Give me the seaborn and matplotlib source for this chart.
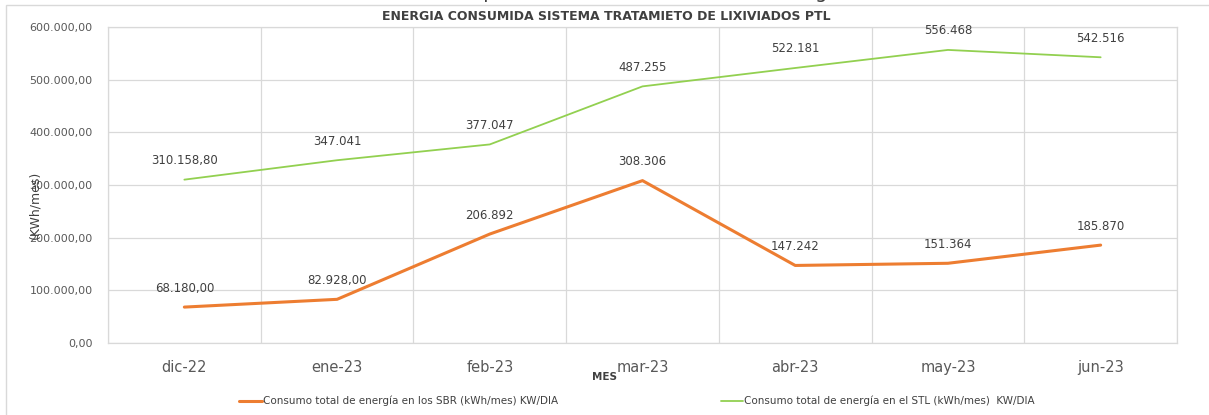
import matplotlib
matplotlib.use("Agg")
import matplotlib.pyplot as plt
import seaborn as sns
import pandas as pd
import numpy as np
from matplotlib.patches import Rectangle
from matplotlib.ticker import FuncFormatter, FixedLocator

# --- Data ---
meses = ["dic-22", "ene-23", "feb-23", "mar-23", "abr-23", "may-23", "jun-23"]
sbr_vals = [68180.00, 82928.00, 206892, 308306, 147242, 151364, 185870]
stl_vals = [310158.80, 347041, 377047, 487255, 522181, 556468, 542516]
sbr_labels = ["68.180,00", "82.928,00", "206.892", "308.306", "147.242", "151.364", "185.870"]
stl_labels = ["310.158,80", "347.041", "377.047", "487.255", "522.181", "556.468", "542.516"]

sbr_name = "Consumo total de energía en los SBR (kWh/mes) KW/DIA"
stl_name = "Consumo total de energía en el STL (kWh/mes)  KW/DIA"

df = pd.DataFrame({
    "mes": meses * 2,
    "valor": sbr_vals + stl_vals,
    "serie": [sbr_name] * len(meses) + [stl_name] * len(meses),
})
df["pos"] = list(range(len(meses))) * 2

sns.set_theme(style="white")
plt.rcParams["font.family"] = ["DejaVu Sans"]

fig = plt.figure(figsize=(12.09, 4.15), dpi=100)
ax = fig.add_axes([108 / 1209, 1 - 343 / 415, (1177 - 108) / 1209, (343 - 27) / 415])

colors = {sbr_name: "#ED7D31", stl_name: "#92D050"}
widths = {sbr_name: 2.2, stl_name: 1.3}
for name, group in df.groupby("serie", sort=False):
    sns.lineplot(data=group, x="pos", y="valor", ax=ax, color=colors[name],
                 linewidth=widths[name], label=name, legend=False)

for i in range(len(meses)):
    ax.annotate(sbr_labels[i], (i, sbr_vals[i]), xytext=(0, 9), textcoords="offset points",
                ha="center", va="bottom", fontsize=8.5, color="#404040")
    ax.annotate(stl_labels[i], (i, stl_vals[i]), xytext=(0, 9), textcoords="offset points",
                ha="center", va="bottom", fontsize=8.5, color="#404040")

ax.set_xlim(-0.5, len(meses) - 0.5)
ax.set_ylim(0, 600000)
ax.set_yticks(np.arange(0, 600001, 100000))
ax.yaxis.set_major_formatter(FuncFormatter(
    lambda v, p: f"{v:,.2f}".replace(",", "X").replace(".", ",").replace("X", ".")))
ax.set_xticks(range(len(meses)))
ax.set_xticklabels(meses)
ax.xaxis.set_minor_locator(FixedLocator(np.arange(-0.5, len(meses), 1)))
ax.grid(axis="y", which="major", color="#d9d9d9", linewidth=0.9)
ax.grid(axis="x", which="minor", color="#d9d9d9", linewidth=0.9)
ax.set_axisbelow(True)
for s in ax.spines.values():
    s.set_color("#d9d9d9")
    s.set_linewidth(0.9)
ax.tick_params(axis="both", which="both", length=0, labelcolor="#595959")
ax.tick_params(axis="x", pad=12, labelsize=10.5)
ax.tick_params(axis="y", pad=11, labelsize=8)

ax.set_xlabel("")
ax.set_ylabel("")
fig.text(605 / 1209, 1 - 377 / 415, "MES", ha="center", va="center",
         fontsize=7.5, fontweight="bold", color="#404040")
fig.text(35 / 1209, 1 - 205 / 415, "(KWh/mes)", rotation=90, ha="center", va="center",
         fontsize=9, color="#404040")

fig.text(606 / 1209, 1 - 17 / 415, "ENERGIA CONSUMIDA SISTEMA TRATAMIETO DE LIXIVIADOS PTL",
         ha="center", va="center", fontsize=9, fontweight="bold", color="#404040")

handles, labels = ax.get_legend_handles_labels()
fig.legend(handles, labels, loc="center", bbox_to_anchor=(637 / 1209, 1 - 401 / 415), ncol=2,
           frameon=False, fontsize=7.5, handlelength=2.2, handletextpad=0.1,
           columnspacing=15.6, labelcolor="#404040")

# partially visible heading cut off at the top of the image
fig.text(0.5, 1 + 1.5 / 415, "Gráfico comportamiento del consumo de energía", ha="center",
         va="baseline", fontsize=14, color="#404040")

fig.patches.append(Rectangle((6 / 1209, -0.01), 1.0, 1 - 5 / 415 + 0.01, transform=fig.transFigure,
                             fill=False, edgecolor="#d9d9d9", linewidth=1.0))

fig.savefig("out.png", dpi=100)
